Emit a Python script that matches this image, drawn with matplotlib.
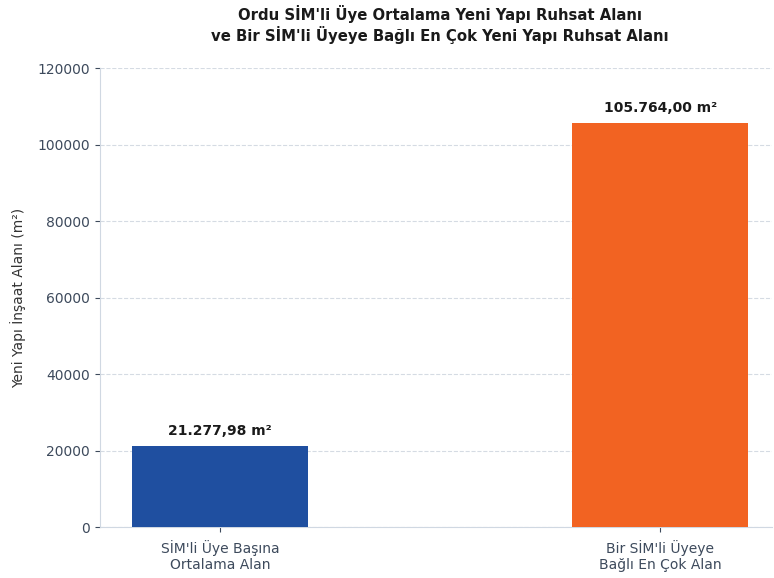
import matplotlib
matplotlib.use("Agg")
import matplotlib.pyplot as plt

kategoriler = ["SİM'li Üye Başına\nOrtalama Alan", "Bir SİM'li Üyeye\nBağlı En Çok Alan"]
degerler = [21277.98, 105764.00]
etiketler = ["21.277,98 m²", "105.764,00 m²"]
renkler = ["#1f4fa0", "#f26322"]

fig = plt.figure(figsize=(7.74, 5.78), dpi=100)
ax = fig.add_axes([0.129, 0.088, 0.869, 0.794])

x = range(len(kategoriler))
bars = ax.bar(x, degerler, width=0.4, color=renkler, zorder=3)
for b, t in zip(bars, etiketler):
    ax.text(b.get_x() + b.get_width() / 2, b.get_height() + 2000, t,
            ha="center", va="bottom", fontsize=10, fontweight="bold", color="#1a1a1a")

ax.set_xticks(list(x))
ax.set_xticklabels(kategoriler, fontsize=10, color="#3d4a5c")
ax.set_xlim(-0.273, 1.255)
ax.set_ylim(0, 120000)
ax.set_yticks(range(0, 120001, 20000))
ax.tick_params(axis="y", labelsize=10, labelcolor="#3d4a5c", color="#3d4a5c")
ax.tick_params(axis="x", color="#3d4a5c", pad=6)
ax.set_ylabel("Yeni Yapı İnşaat Alanı (m²)", fontsize=10, color="#333333", labelpad=8)
ax.grid(axis="y", linestyle="--", color="#d5dbe3", linewidth=0.8, zorder=0)

for s in ["top", "right"]:
    ax.spines[s].set_visible(False)
for s in ["left", "bottom"]:
    ax.spines[s].set_color("#d0d8e2")

fig.suptitle("Ordu SİM'li Üye Ortalama Yeni Yapı Ruhsat Alanı\nve Bir SİM'li Üyeye Bağlı En Çok Yeni Yapı Ruhsat Alanı",
             fontsize=10.7, fontweight="bold", color="#1a1a1a", x=0.568, y=0.992)

fig.savefig("out.png", dpi=100)
